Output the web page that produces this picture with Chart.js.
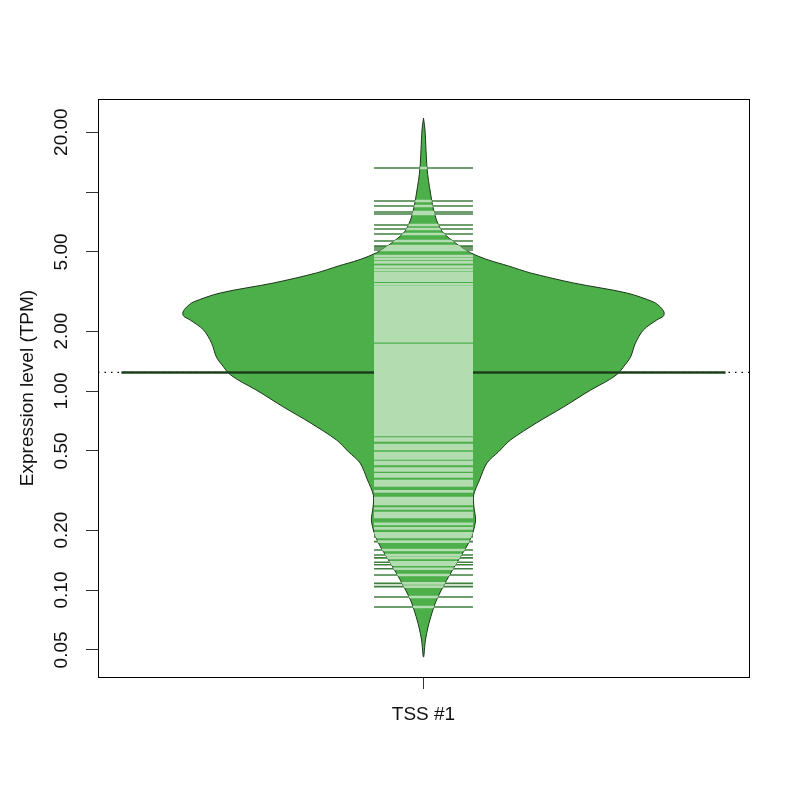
<!DOCTYPE html>
<html>
<head>
<meta charset="utf-8">
<title>TSS #1 bean plot</title>
<script src="https://cdn.jsdelivr.net/npm/chart.js@4.4.1/dist/chart.umd.min.js"></script>
<style>
  html, body { margin: 0; padding: 0; background: #fff; }
  #wrap { width: 800px; height: 800px; }
</style>
</head>
<body>
<div id="wrap"><canvas id="bean" width="800" height="800"></canvas></div>
<script>
// =====================
//  Data
// =====================
const groupLabel = 'TSS #1';
const yTitle = 'Expression level (TPM)';
const yTickValues = [0.05, 0.1, 0.2, 0.5, 1, 2, 5, 10, 20];
const yTickLabels = ['0.05', '0.10', '0.20', '0.50', '1.00', '2.00', '5.00', '', '20.00'];

// bean outline: level (TPM) and half width of the density at that level
const outlineLevels = [23.5, 20.5, 16.3, 13.2, 11.4, 9.89, 8.6, 7.49, 6.83, 6.22, 5.54, 5.11, 4.82, 4.55,
  4.25, 3.92, 3.49, 3.11, 2.80, 2.64, 2.49, 2.38, 2.27, 2.03, 1.74, 1.48, 1.32, 1.23, 1.14, 1.01,
  0.831, 0.691, 0.567, 0.494, 0.435, 0.357, 0.300, 0.261, 0.225, 0.193, 0.168, 0.142, 0.112,
  0.0891, 0.0766, 0.0652, 0.0561, 0.046];
const outlineWidths = [0, 0.0046, 0.0077, 0.0108, 0.0154, 0.0215, 0.0276, 0.0369, 0.0461, 0.0614, 0.0983, 0.129, 0.160, 0.200,
  0.261, 0.329, 0.461, 0.624, 0.707, 0.728, 0.739, 0.737, 0.716, 0.676, 0.651, 0.636, 0.614, 0.599, 0.571, 0.513,
  0.430, 0.347, 0.267, 0.230, 0.195, 0.172, 0.154, 0.155, 0.160, 0.151, 0.135, 0.108, 0.071,
  0.040, 0.026, 0.014, 0.006, 0];

// one bean line per observation (TPM)
const tpmValues = [13.2, 9.01, 8.50, 7.93, 7.75, 6.83, 6.52, 6.15, 5.67, 5.35, 5.23, 5.11,
  4.77, 4.61, 4.43, 4.22, 4.06, 3.92, 3.83, 3.74, 3.66, 3.58, 3.44, 3.33, 3.26, 3.18, 3.11, 3.04,
  2.97, 2.90, 2.83, 2.77, 2.71, 2.64, 2.58, 2.53, 2.47, 2.41, 2.36, 2.30, 2.25, 2.20, 2.15, 2.10,
  2.05, 2.00, 1.96, 1.91, 1.87, 1.83, 1.78,
  1.70, 1.66, 1.63, 1.59, 1.55, 1.52, 1.48, 1.45, 1.42, 1.38, 1.35, 1.32, 1.29, 1.26, 1.23, 1.20,
  1.18, 1.15, 1.12, 1.10, 1.07, 1.05, 1.02, 1.00, 0.977, 0.955, 0.933, 0.912, 0.891, 0.870, 0.851,
  0.831, 0.812, 0.794, 0.775, 0.758, 0.740, 0.723, 0.707, 0.691, 0.675, 0.659, 0.644, 0.630, 0.615, 0.601,
  0.577, 0.564, 0.535, 0.523, 0.511, 0.488, 0.477, 0.466, 0.458, 0.440, 0.430, 0.408, 0.399, 0.381,
  0.372, 0.353, 0.345, 0.335, 0.313, 0.290, 0.283, 0.277, 0.271, 0.257, 0.244, 0.238, 0.233, 0.215,
  0.204, 0.193, 0.189, 0.185, 0.175,
  0.159, 0.150, 0.145, 0.138, 0.134, 0.128, 0.119, 0.108, 0.104, 0.0922, 0.0822];

const beanMean = 1.24;     // bean average line
const overallMean = 1.24;  // dotted overall line

// =====================
//  Sizes / styles
// =====================
const X_MIN = -1, X_MAX = 1;
const MEAN_HALF = 0.928;
const LINE_HALF = 0.152;
const FONT = { family: '"Liberation Sans", Arial, Helvetica, sans-serif', size: 19 };
const GREEN = '#4daf4a';
const LINE_IN = '#b3dcb0';
const LINE_OUT = '#3f7f3e';

// bean polygon: down the right side, back up the left side
const rightSide = outlineLevels.map((v, i) => ({ x: outlineWidths[i], y: v }));
const leftSide = outlineLevels.map((v, i) => ({ x: -outlineWidths[i], y: v })).reverse();
const beanShape = rightSide.concat(leftSide.slice(1));

// bean lines, one segment per value, broken by null points
const beanLinePts = [];
tpmValues.forEach(v => {
  beanLinePts.push({ x: -LINE_HALF, y: v }, { x: LINE_HALF, y: v }, { x: 0, y: null });
});

// light lines only inside the bean
const clipToBean = {
  id: 'clipToBean',
  beforeDatasetDraw(chart, args) {
    if (!chart.data.datasets[args.index].insideBean) return;
    const bean = chart.getDatasetMeta(0).dataset;
    const ctx = chart.ctx;
    ctx.save();
    ctx.beginPath();
    bean.path(ctx);
    ctx.closePath();
    ctx.clip();
  },
  afterDatasetDraw(chart, args) {
    if (chart.data.datasets[args.index].insideBean) chart.ctx.restore();
  }
};

// box round the plot region
const plotBox = {
  id: 'plotBox',
  afterDraw(chart) {
    const { ctx, chartArea: a } = chart;
    ctx.save();
    ctx.strokeStyle = '#000';
    ctx.lineWidth = 1;
    ctx.strokeRect(Math.round(a.left) + 0.5, Math.round(a.top) + 0.5,
      Math.round(a.right - a.left), Math.round(a.bottom - a.top));
    ctx.restore();
  }
};

new Chart(document.getElementById('bean'), {
  type: 'line',
  data: {
    datasets: [
      {
        label: 'bean',
        data: beanShape,
        order: 5,
        fill: 'shape',
        backgroundColor: GREEN,
        borderColor: '#1b361a',
        borderWidth: 1,
        tension: 0.3,
        pointRadius: 0
      },
      {
        label: 'overall',
        data: [{ x: X_MIN, y: overallMean }, { x: X_MAX, y: overallMean }],
        order: 6,
        borderColor: '#000',
        borderWidth: 1.2,
        borderDash: [1.5, 5],
        pointRadius: 0
      },
      {
        label: 'mean',
        data: [{ x: -MEAN_HALF, y: beanMean }, { x: MEAN_HALF, y: beanMean }],
        order: 3,
        borderColor: '#1c3f1b',
        borderWidth: 2.4,
        pointRadius: 0
      },
      {
        label: 'lines outside',
        data: beanLinePts,
        order: 2,
        borderColor: LINE_OUT,
        borderWidth: 1.6,
        spanGaps: false,
        pointRadius: 0
      },
      {
        label: 'lines inside',
        data: beanLinePts,
        insideBean: true,
        order: 1,
        borderColor: LINE_IN,
        borderWidth: 2.6,
        spanGaps: false,
        pointRadius: 0
      }
    ]
  },
  options: {
    responsive: false,
    animation: false,
    devicePixelRatio: 1,
    events: [],
    layout: { padding: { top: 99, right: 51, left: 0, bottom: 0 } },
    plugins: { legend: { display: false }, tooltip: { enabled: false } },
    scales: {
      x: {
        type: 'linear',
        min: X_MIN,
        max: X_MAX,
        afterBuildTicks: s => { s.ticks = [{ value: 0 }]; },
        afterFit: s => { s.height = 123; },
        ticks: { callback: () => groupLabel, font: FONT, color: '#111', padding: 14, autoSkip: false, maxRotation: 0 },
        grid: { drawOnChartArea: false, tickLength: 12, tickColor: '#333', tickWidth: 1 },
        border: { display: true, color: '#000', width: 1 }
      },
      y: {
        type: 'logarithmic',
        min: 0.03655,
        max: 29.34,
        afterBuildTicks: s => { s.ticks = yTickValues.map(v => ({ value: v })); },
        afterFit: s => { s.width = 98; },
        ticks: {
          callback: (v, i) => yTickLabels[i],
          font: FONT, color: '#111',
          minRotation: 90, maxRotation: 90,
          crossAlign: 'center', padding: 0, autoSkip: false
        },
        title: { display: true, text: yTitle, font: FONT, color: '#111', padding: { top: 16, bottom: 0 } },
        grid: { drawOnChartArea: false, tickLength: 12, tickColor: '#333', tickWidth: 1 },
        border: { display: true, color: '#000', width: 1 }
      }
    }
  },
  plugins: [clipToBean, plotBox]
});
</script>
</body>
</html>
